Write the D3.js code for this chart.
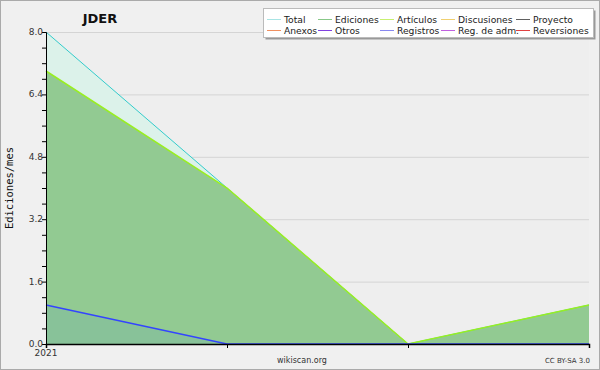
<!DOCTYPE html>
<html>
<head>
<meta charset="utf-8">
<script src="https://cdn.jsdelivr.net/npm/d3@7"></script>
<style>
  body { margin: 0; background: #f0f0f0; }
  svg { display: block; font-family: "DejaVu Sans", sans-serif; }
</style>
</head>
<body>
<script>
// monthly values, 2021
const months = ["2021-01", "2021-02", "2021-03", "2021-04"];
const total = [8, 4, 0, 1];
const ediciones = [7, 4, 0, 1];
const registros = [1, 0, 0, 0];
const yTicks = [0, 1.6, 3.2, 4.8, 6.4, 8.0];

const legendItems = [
  ["Total", "#a8e4e4"], ["Ediciones", "#88c888"], ["Artículos", "#c8f070"],
  ["Discusiones", "#f0d070"], ["Proyecto", "#606060"],
  ["Anexos", "#f09060"], ["Otros", "#8040e0"], ["Registros", "#8888f0"],
  ["Reg. de adm.", "#c060e0"], ["Reversiones", "#e04040"]
];

const width = 600, height = 370;
const margin = {top: 32, right: 11, bottom: 26, left: 46};

const svg = d3.select("body").append("svg")
    .attr("width", width)
    .attr("height", height);

svg.append("rect")
    .attr("x", 0.5).attr("y", 0.5)
    .attr("width", width - 1).attr("height", height - 1)
    .attr("fill", "#f0f0f0")
    .attr("stroke", "#aaaaaa");

// months are evenly spaced in the original
const x = d3.scalePoint()
    .domain(months)
    .range([margin.left, width - margin.right]);

const y = d3.scaleLinear()
    .domain([0, 8])
    .range([height - margin.bottom, margin.top]);

// plot background
svg.append("rect")
    .attr("x", margin.left).attr("y", margin.top)
    .attr("width", x.range()[1] - margin.left)
    .attr("height", y(0) - margin.top)
    .attr("fill", "#eeeeee");

// grid
svg.append("g")
    .selectAll("line")
    .data(yTicks.slice(1))
    .enter()
    .append("line")
    .attr("x1", margin.left).attr("x2", x.range()[1])
    .attr("y1", d => y(d) + 0.5).attr("y2", d => y(d) + 0.5)
    .attr("stroke", "#d4d4d4");

const area = vals => d3.area()
    .x((d, i) => x(months[i]))
    .y0(y(0))
    .y1(d => y(d))(vals);
const line = vals => d3.line()
    .x((d, i) => x(months[i]))
    .y(d => y(d))(vals);

svg.append("path").attr("d", area(total)).attr("fill", "#dcf2ea");
svg.append("path").attr("d", area(ediciones)).attr("fill", "#92ca92");
svg.append("path").attr("d", area(registros)).attr("fill", "#4488cc").attr("fill-opacity", 0.12);

svg.append("path").attr("d", line(total))
    .attr("fill", "none").attr("stroke", "#33cccc").attr("stroke-width", 1);
svg.append("path").attr("d", line(ediciones))
    .attr("fill", "none").attr("stroke", "#99ee22").attr("stroke-width", 1.5);
svg.append("path").attr("d", line(registros))
    .attr("fill", "none").attr("stroke", "#3344ff").attr("stroke-width", 1.3);

// y axis
const yAxis = svg.append("g")
    .attr("transform", `translate(${margin.left},0)`)
    .call(d3.axisLeft(y).tickValues(d3.range(0, 8.01, 0.4)).tickSize(4).tickFormat(""));
yAxis.select(".domain").attr("stroke", "#000");
svg.append("g")
    .selectAll("text")
    .data(yTicks)
    .enter()
    .append("text")
    .attr("x", margin.left - 3)
    .attr("y", d => y(d) + 3)
    .attr("text-anchor", "end")
    .attr("font-size", 9)
    .attr("fill", "#333")
    .text(d => d.toFixed(1));

// x axis
const xAxis = svg.append("g")
    .attr("transform", `translate(0,${y(0)})`)
    .call(d3.axisBottom(x).tickSize(4).tickFormat(""));
xAxis.select(".domain").attr("stroke", "#000").attr("stroke-width", 1.5);
xAxis.selectAll(".tick line").attr("stroke", "#000");

svg.append("text")
    .attr("x", x(months[0]))
    .attr("y", y(0) + 12)
    .attr("text-anchor", "middle")
    .attr("font-size", 9)
    .attr("fill", "#333")
    .text("2021");

svg.append("text")
    .attr("transform", `translate(13,${(margin.top + y(0)) / 2}) rotate(-90)`)
    .attr("text-anchor", "middle")
    .attr("font-family", "DejaVu Sans Mono, monospace")
    .attr("font-size", 10.5)
    .attr("fill", "#111")
    .text("Ediciones/mes");

svg.append("text")
    .attr("x", 100).attr("y", 23)
    .attr("text-anchor", "middle")
    .attr("font-size", 13)
    .attr("font-weight", "bold")
    .attr("fill", "#111")
    .text("JDER");

svg.append("text")
    .attr("x", 302).attr("y", 363)
    .attr("text-anchor", "middle")
    .attr("font-size", 8)
    .attr("fill", "#333")
    .text("wikiscan.org");

svg.append("text")
    .attr("x", 590).attr("y", 363)
    .attr("text-anchor", "end")
    .attr("font-size", 7)
    .attr("fill", "#333")
    .text("CC BY-SA 3.0");

// legend
const lg = svg.append("g");
lg.append("rect")
    .attr("x", 265.5).attr("y", 10.5).attr("width", 330).attr("height", 29)
    .attr("fill", "#999");
lg.append("rect")
    .attr("x", 263.5).attr("y", 8.5).attr("width", 330).attr("height", 29)
    .attr("fill", "#fff").attr("stroke", "#bbb");
const colX = [267, 318, 380, 441, 516];
lg.selectAll("g")
    .data(legendItems)
    .enter()
    .append("g")
    .attr("transform", (d, i) => `translate(${colX[i % 5]},${i < 5 ? 19 : 30})`)
    .each(function(d) {
        const g = d3.select(this);
        g.append("line").attr("x1", 0).attr("x2", 14).attr("y1", 0.5).attr("y2", 0.5)
            .attr("stroke", d[1]);
        g.append("text").attr("x", 17).attr("y", 3.5)
            .attr("font-size", 9.2).attr("fill", "#222").text(d[0]);
    });
</script>
</body>
</html>
